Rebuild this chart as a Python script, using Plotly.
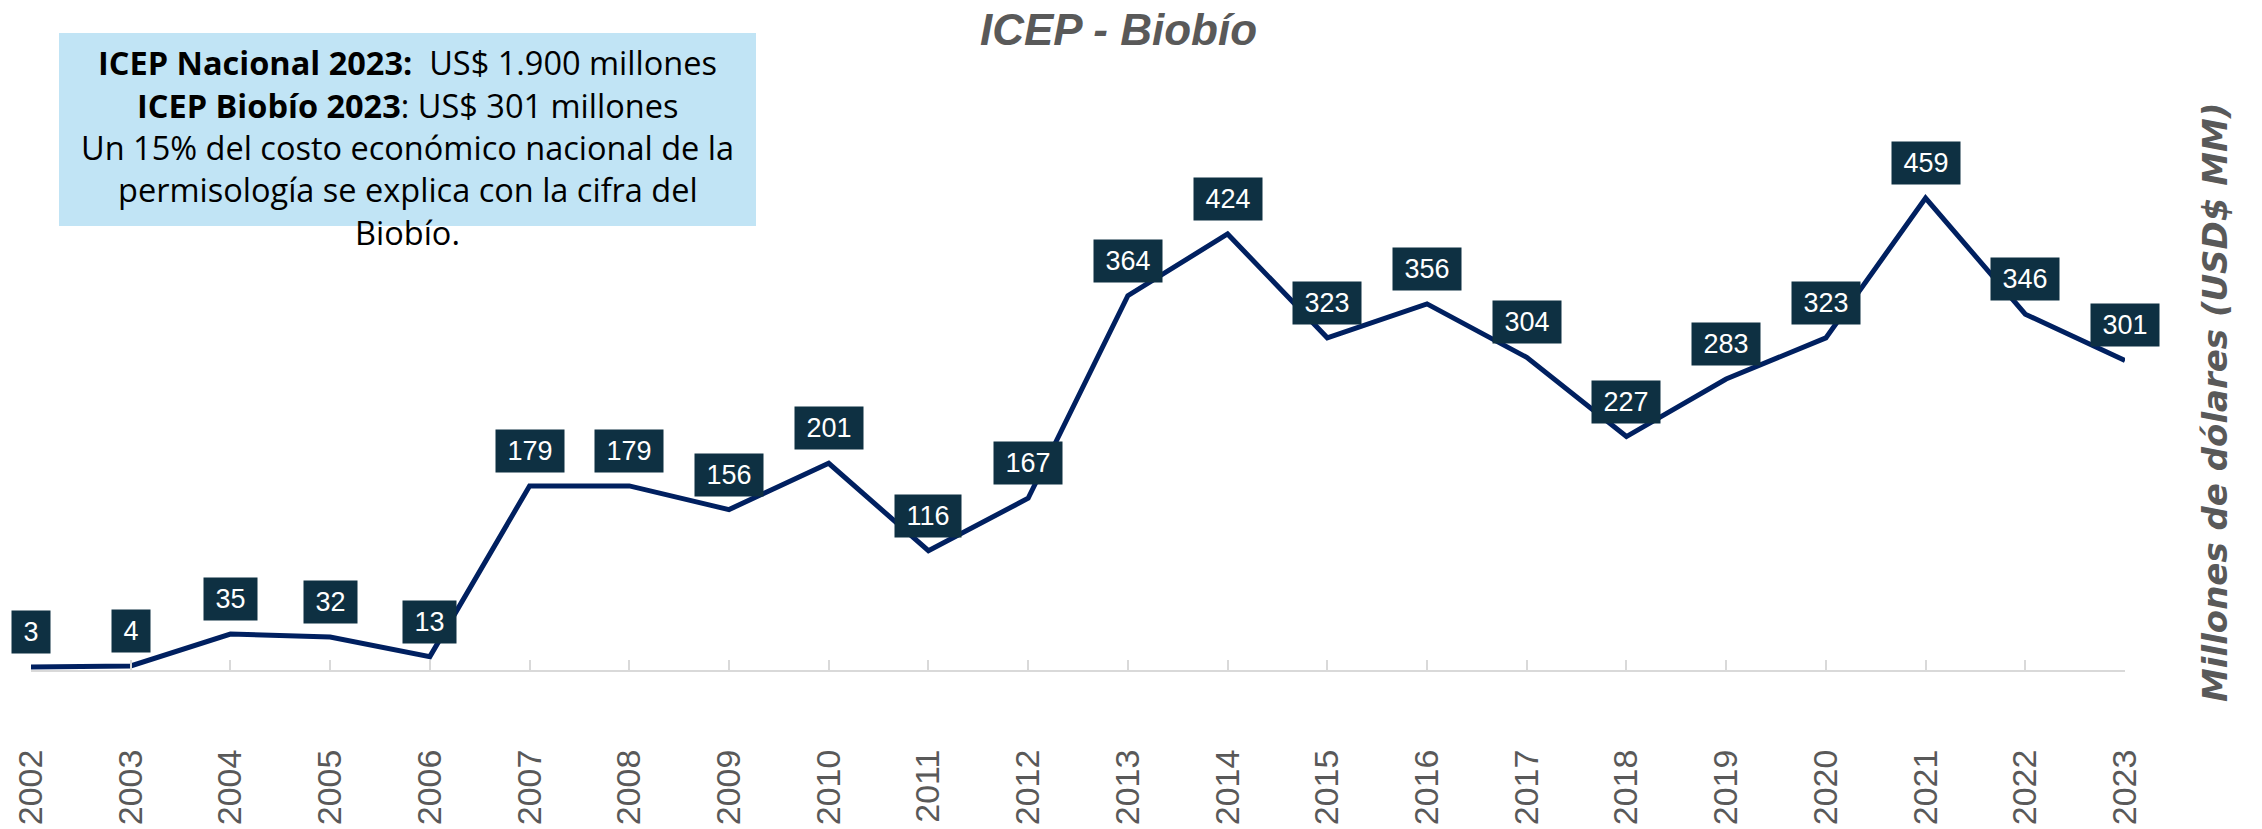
import plotly.graph_objects as go

years = list(range(2002, 2024))
values = [3, 4, 35, 32, 13, 179, 179, 156, 201, 116, 167, 364, 424, 323, 356, 304, 227, 283, 323, 459, 346, 301]
tick_labels = [str(y) for y in years]

title_text = "ICEP - Biobío"
yaxis_title = "Millones de dólares (USD$ MM)"
box_lines = [
    "<b>ICEP Nacional 2023:</b>\u00a0 US$ 1.900 millones",
    "<b>ICEP Biobío 2023</b>: US$ 301 millones",
    "Un 15% del costo económico nacional de la",
    "permisología se explica con la cifra del",
    "Biobío.",
]

W, H = 2262, 829
L, R, T, B = 31, 137, 53, 159
PW, PH = W - L - R, H - T - B


def px_x(px):
    return (px - L) / PW


def px_y(py):
    return (H - B - py) / PH


fig = go.Figure()
fig.add_trace(go.Scatter(
    x=years, y=values, mode="lines",
    line=dict(color="#002060", width=5),
    hoverinfo="skip", showlegend=False,
))

# data labels
for x, v in zip(years, values):
    fig.add_annotation(
        x=x, y=v, xref="x", yref="y",
        text="\u2009" + str(v) + "\u2009",
        showarrow=False, yshift=35,
        font=dict(family="Liberation Sans, Arial", size=27, color="white"),
        bgcolor="#0E3042", borderpad=6,
    )

# text box
fig.add_shape(type="rect", xref="paper", yref="paper",
              x0=px_x(59), x1=px_x(756), y0=px_y(226), y1=px_y(33),
              fillcolor="#C1E4F5", line=dict(width=0), layer="below")
for i, line in enumerate(box_lines):
    fig.add_annotation(
        xref="paper", yref="paper", x=px_x(407.5), y=px_y(63 + 42.3 * i),
        xanchor="center", yanchor="middle", align="center",
        text=line, showarrow=False,
        font=dict(family="Open Sans, Lato, Arial", size=32.5, color="black"),
    )

# title
fig.add_annotation(
    xref="paper", yref="paper", x=px_x(1118), y=px_y(29),
    xanchor="center", yanchor="middle", showarrow=False,
    text="<b><i>" + title_text + "</i></b>",
    font=dict(family="Liberation Sans, Arial", size=44, color="#595959"),
)

# right axis title
fig.add_annotation(
    xref="paper", yref="paper", x=px_x(2215), y=px_y(403),
    xanchor="center", yanchor="middle", showarrow=False, textangle=-90,
    text="<b><i>" + yaxis_title + "</i></b>",
    font=dict(family="DejaVu Sans", size=34, color="#595959"),
)

fig.update_xaxes(
    range=[2002, 2023], tickmode="array", tickvals=years, ticktext=tick_labels,
    showline=True, linecolor="#D9D9D9", linewidth=2,
    ticks="inside", ticklen=10, tickcolor="#D9D9D9", tickwidth=2,
    tickangle=-90, ticklabelstandoff=64,
    tickfont=dict(family="Liberation Sans, Arial", size=34, color="#595959"),
    showgrid=False, zeroline=False,
)
fig.update_yaxes(range=[0, 600], visible=False, showgrid=False, zeroline=False)

fig.update_layout(
    width=W, height=H,
    margin=dict(l=L, r=R, t=T, b=B, autoexpand=False),
    paper_bgcolor="white", plot_bgcolor="white",
    showlegend=False,
)

fig.write_html("out.html", config={"displayModeBar": False},
               post_script="document.body.style.margin='0';")
